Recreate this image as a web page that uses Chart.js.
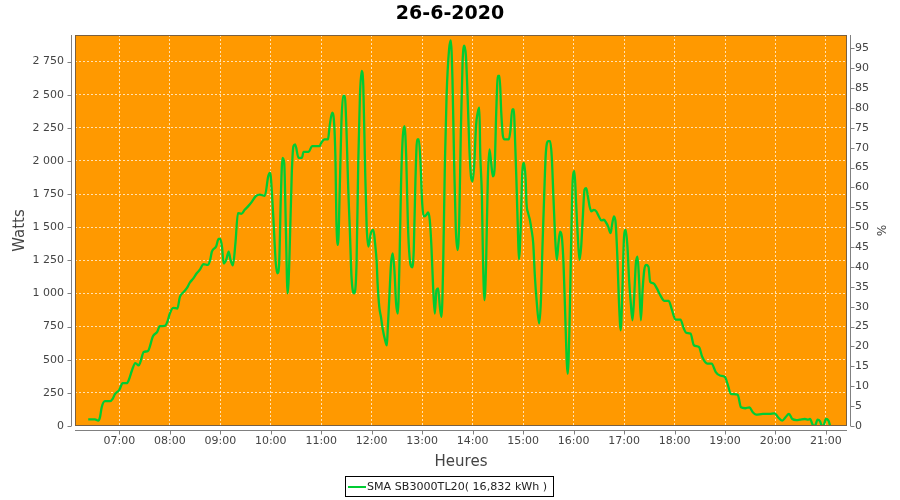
<!DOCTYPE html>
<html>
<head>
<meta charset="utf-8">
<title>26-6-2020</title>
<script src="https://cdn.jsdelivr.net/npm/chart.js@4/dist/chart.umd.min.js"></script>
<style>
  html, body { margin:0; padding:0; background:#fff; }
  #wrap { width:900px; height:500px; }
</style>
</head>
<body>
<div id="wrap"><canvas id="chart" width="900" height="500"></canvas></div>
<script>
/* ── Production du jour : SMA SB3000TL20 ── */

const chartTitle = "26-6-2020";
const seriesName = "SMA SB3000TL20( 16,832 kWh )";

// relevés (heure, puissance en W)
const times = [
  "06:23","06:31","06:35","06:37","06:39","06:43","06:49","06:52","06:55","07:00",
  "07:04","07:09","07:11","07:15","07:19","07:23","07:25","07:29","07:34","07:40",
  "07:45","07:48","07:54","07:57","08:00","08:04","08:09","08:12","08:16","08:20",
  "08:24","08:28","08:32","08:36","08:40","08:45","08:48","08:50","08:55","08:58",
  "09:00","09:02","09:04","09:07","09:10","09:12","09:15","09:18","09:21","09:25",
  "09:29","09:33","09:37","09:42","09:47","09:53","09:57","09:59","10:00","10:03",
  "10:06","10:08","10:10","10:12","10:14","10:16","10:18","10:20","10:22","10:25",
  "10:27","10:29","10:33","10:37","10:39","10:45","10:49","10:54","10:58","11:00",
  "11:04","11:08","11:10","11:13","11:15","11:17","11:18","11:20","11:22","11:24",
  "11:26","11:28","11:30","11:32","11:34","11:36","11:39","11:42","11:44","11:46",
  "11:48","11:50","11:52","11:54","11:56","11:59","12:02","12:04","12:06","12:07",
  "12:09","12:11","12:13","12:16","12:18","12:19","12:21","12:23","12:25","12:27",
  "12:29","12:31","12:33","12:35","12:37","12:39","12:41","12:43","12:45","12:48",
  "12:50","12:52","12:54","12:56","12:58","13:00","13:02","13:05","13:07","13:09",
  "13:11","13:13","13:15","13:17","13:19","13:21","13:23","13:25","13:27","13:29",
  "13:32","13:34","13:36","13:38","13:40","13:42","13:44","13:46","13:48","13:50",
  "13:52","13:54","13:56","13:58","14:00","14:02","14:04","14:06","14:08","14:09",
  "14:11","14:12","14:14","14:16","14:18","14:20","14:22","14:24","14:26","14:28",
  "14:30","14:32","14:34","14:36","14:38","14:43","14:45","14:47","14:49","14:50",
  "14:52","14:54","14:55","14:57","14:59","15:01","15:03","15:04","15:06","15:08",
  "15:10","15:12","15:14","15:16","15:19","15:21","15:23","15:25","15:27","15:30",
  "15:32","15:34","15:36","15:38","15:40","15:42","15:44","15:46","15:48","15:50",
  "15:52","15:53","15:55","15:57","15:59","16:01","16:03","16:05","16:07","16:09",
  "16:11","16:13","16:15","16:17","16:19","16:21","16:24","16:27","16:30","16:33",
  "16:36","16:39","16:41","16:44","16:46","16:48","16:50","16:52","16:54","16:56",
  "16:58","17:00","17:02","17:04","17:06","17:08","17:10","17:12","17:14","17:16",
  "17:18","17:20","17:22","17:24","17:26","17:29","17:31","17:35","17:39","17:43",
  "17:48","17:53","17:57","18:01","18:07","18:11","18:14","18:19","18:23","18:29",
  "18:33","18:39","18:44","18:49","18:54","19:00","19:03","19:07","19:15","19:19",
  "19:24","19:29","19:33","19:37","19:45","19:53","19:59","20:03","20:08","20:12",
  "20:16","20:20","20:25","20:29","20:35","20:39","20:41","20:45","20:47","20:50",
  "20:53","20:55","20:57","21:00","21:03","21:05"
];
const watts = [
  50,50,40,66,140,187,187,205,242,273,
  323,323,343,419,475,457,482,558,566,677,
  710,753,755,785,848,891,886,975,1008,1038,
  1083,1114,1152,1182,1222,1215,1253,1316,1354,1412,
  1412,1354,1227,1253,1316,1258,1212,1379,1606,1601,
  1631,1657,1687,1732,1745,1737,1884,1910,1884,1581,
  1227,1152,1227,1732,2023,1985,1480,1000,1227,1909,
  2111,2124,2023,2023,2068,2068,2111,2111,2111,2136,
  2162,2162,2263,2364,2313,1985,1556,1366,1783,2288,
  2490,2490,2237,1808,1480,1126,1000,1227,1985,2490,
  2679,2566,1985,1505,1354,1455,1480,1379,1227,1076,
  899,823,735,646,609,722,975,1227,1303,1177,
  924,848,1227,1859,2187,2263,2035,1530,1278,1197,
  1328,1859,2162,2162,1985,1682,1581,1593,1611,1556,
  1354,1050,848,1025,1038,899,823,1227,1985,2490,
  2843,2910,2616,1985,1480,1328,1530,2237,2742,2870,
  2793,2490,2111,1884,1846,1985,2263,2364,2402,2061,
  1732,1354,949,1227,1859,2086,1985,1884,1934,2364,
  2641,2641,2364,2187,2162,2162,2237,2389,2389,2237,
  1859,1429,1258,1480,1909,1985,1859,1682,1606,1556,
  1480,1379,1126,949,773,924,1354,1732,2061,2149,
  2149,2035,1732,1429,1253,1379,1467,1429,1227,848,
  470,394,722,1354,1859,1922,1682,1429,1253,1354,
  1581,1783,1795,1732,1657,1619,1631,1619,1581,1551,
  1556,1530,1505,1455,1530,1581,1530,1278,924,722,
  1025,1429,1480,1354,1101,924,798,975,1227,1278,
  1076,798,1025,1177,1215,1202,1088,1076,1038,987,
  944,944,874,803,803,735,702,697,609,596,
  520,470,470,407,381,369,318,242,237,141,
  134,141,104,86,91,91,96,66,40,66,
  91,53,45,48,53,48,53,3,3,48,
  35,3,3,53,40,0
];

// graduations
const hourLabels = ["07:00","08:00","09:00","10:00","11:00","12:00","13:00","14:00",
                    "15:00","16:00","17:00","18:00","19:00","20:00","21:00"];
const wattTicks  = [0,250,500,750,1000,1250,1500,1750,2000,2250,2500,2750];
const pctTicks   = [0,5,10,15,20,25,30,35,40,45,50,55,60,65,70,75,80,85,90,95];

const X_MIN = 367.3, X_MAX = 1285;      // minutes depuis minuit
const W_MAX = 2950, W_NOMINAL = 3000;   // % = W / 3000

const toMin = s => { const [h, m] = s.split(":").map(Number); return h * 60 + m; };
const hourTicks = hourLabels.map(toMin);
const fmtW = v => String(v).replace(/\B(?=(\d{3})+(?!\d))/g, " ");

const ORANGE = "#ff9900";
const GREEN  = "#00cc33";
const AXIS   = "#808080";
const TXT    = "#444444";
const GRID   = "rgba(255,255,255,0.7)";

Chart.defaults.font.family = "'DejaVu Sans', sans-serif";

// fond orange, axes décalés, légende encadrée
const plotDeco = {
  id: "plotDeco",
  beforeDraw(chart) {
    const { ctx, chartArea: a } = chart;
    ctx.save();
    ctx.fillStyle = ORANGE;
    ctx.fillRect(a.left, a.top, a.right - a.left, a.bottom - a.top);
    ctx.restore();
  },
  afterDraw(chart) {
    const { ctx, chartArea: a, scales } = chart;
    ctx.save();
    // contour
    ctx.strokeStyle = "#7a6040";
    ctx.lineWidth = 1;
    ctx.strokeRect(a.left + 0.5, a.top + 0.5, a.right - a.left - 1, a.bottom - a.top - 1);

    ctx.strokeStyle = AXIS;
    ctx.beginPath();
    // axe gauche
    const lx = a.left - 3.5;
    ctx.moveTo(lx, a.top); ctx.lineTo(lx, a.bottom);
    wattTicks.forEach(v => {
      const y = Math.round(scales.y.getPixelForValue(v)) + 0.5;
      ctx.moveTo(lx - 4, y); ctx.lineTo(lx, y);
    });
    // axe droit
    const rx = a.right + 3.5;
    ctx.moveTo(rx, a.top); ctx.lineTo(rx, a.bottom);
    pctTicks.forEach(v => {
      const y = Math.round(scales.y1.getPixelForValue(v)) + 0.5;
      ctx.moveTo(rx, y); ctx.lineTo(rx + 4, y);
    });
    // axe bas
    const by = a.bottom + 4.5;
    ctx.moveTo(a.left, by); ctx.lineTo(a.right, by);
    hourTicks.forEach(v => {
      const x = Math.round(scales.x.getPixelForValue(v)) + 0.5;
      ctx.moveTo(x, by); ctx.lineTo(x, by + 4);
    });
    ctx.stroke();

    // légende
    const bx = 345.5, byy = 476.5, bw = 208, bh = 20;
    ctx.fillStyle = "#fff";
    ctx.fillRect(bx, byy, bw, bh);
    ctx.strokeStyle = "#000";
    ctx.strokeRect(bx, byy, bw, bh);
    ctx.strokeStyle = GREEN;
    ctx.lineWidth = 2;
    ctx.beginPath();
    ctx.moveTo(348, 487); ctx.lineTo(366, 487);
    ctx.stroke();
    ctx.fillStyle = "#222";
    ctx.font = "11.1px 'DejaVu Sans', sans-serif";
    ctx.textBaseline = "middle";
    ctx.textAlign = "left";
    ctx.fillText(seriesName, 367, 487);
    ctx.restore();
  },
};

new Chart(document.getElementById("chart"), {
  type: "line",
  data: {
    datasets: [{
      label: seriesName,
      data: times.map((t, i) => ({ x: toMin(t), y: watts[i] })),
      borderColor: GREEN,
      borderWidth: 2.3,
      pointRadius: 0,
      fill: false,
      cubicInterpolationMode: "monotone",
      xAxisID: "x",
      yAxisID: "y",
    }],
  },
  options: {
    responsive: false,
    animation: false,
    layout: { padding: 0 },
    plugins: {
      legend: { display: false },
      tooltip: { enabled: false },
      title: {
        display: true,
        text: chartTitle,
        color: "#000",
        font: { size: 19, weight: "bold" },
        padding: { top: 3, bottom: 9.2 },
      },
    },
    scales: {
      x: {
        type: "linear",
        position: "bottom",
        min: X_MIN, max: X_MAX,
        afterBuildTicks: s => { s.ticks = hourTicks.map(v => ({ value: v })); },
        afterFit: s => { s.height = 74; },
        ticks: {
          padding: 9, color: TXT, font: { size: 11 },
          maxRotation: 0, autoSkip: false,
          callback: v => hourLabels[hourTicks.indexOf(v)] ?? "",
        },
        grid: { color: GRID, lineWidth: 1, drawTicks: false },
        border: { display: false, dash: [2, 2] },
        title: { display: true, text: "Heures", color: TXT, font: { size: 15 }, padding: { top: 0, bottom: 29 } },
      },
      y: {
        position: "left",
        min: 0, max: W_MAX,
        afterBuildTicks: s => { s.ticks = wattTicks.map(v => ({ value: v })); },
        afterFit: s => { s.width = 75; },
        ticks: { padding: 11, color: TXT, font: { size: 11 }, callback: v => fmtW(v) },
        grid: { color: GRID, lineWidth: 1, drawTicks: false },
        border: { display: false, dash: [2, 2] },
        title: { display: true, text: "Watts", color: TXT, font: { size: 15 }, padding: { top: 11, bottom: 0 } },
      },
      y1: {
        position: "right",
        min: 0, max: W_MAX / W_NOMINAL * 100,
        afterBuildTicks: s => { s.ticks = pctTicks.map(v => ({ value: v })); },
        afterFit: s => { s.width = 53; },
        ticks: { padding: 8, color: TXT, font: { size: 11 } },
        grid: { display: false, drawTicks: false },
        border: { display: false },
        title: { display: true, text: "%", color: TXT, font: { size: 12 }, padding: { top: 13, bottom: 0 } },
      },
    },
  },
  plugins: [plotDeco],
});
</script>
</body>
</html>
